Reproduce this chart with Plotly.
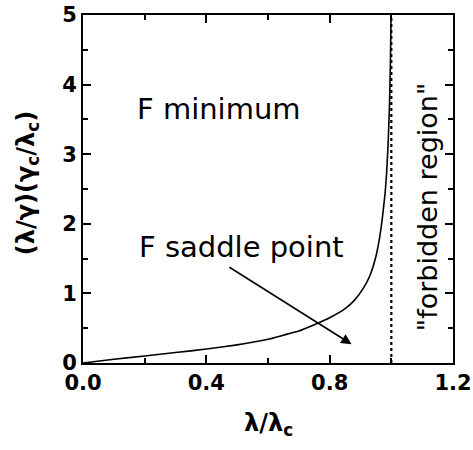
import plotly.graph_objects as go

# data
x_ratio = [0, 0.1, 0.2, 0.3, 0.4, 0.5, 0.6, 0.65, 0.7, 0.75, 0.8, 0.85, 0.88, 0.91, 0.93,
           0.95, 0.96, 0.97, 0.98, 0.985, 0.99, 0.994, 0.997, 0.999]
y_ratio = [0, 0.055, 0.10, 0.15, 0.20, 0.26, 0.34, 0.40, 0.46, 0.55, 0.65, 0.78, 0.90, 1.08, 1.25,
           1.53, 1.75, 2.05, 2.45, 2.75, 3.2, 3.7, 4.3, 5.0]
forbidden_x = [1.0, 1.0]
forbidden_y = [0, 5]
x_ticks = [0.0, 0.4, 0.8, 1.2]
x_ticklabels = ["0.0", "0.4", "0.8", "1.2"]
y_ticks = [0, 1, 2, 3, 4, 5]

FONT = "DejaVu Sans"

fig = go.Figure()
fig.add_trace(go.Scatter(x=x_ratio, y=y_ratio, mode="lines",
                         line=dict(color="black", width=1.6, shape="spline", smoothing=0.4),
                         showlegend=False, hoverinfo="skip"))
fig.add_trace(go.Scatter(x=forbidden_x, y=forbidden_y, mode="lines", line=dict(color="black", width=2.2, dash="dot"),
                         showlegend=False, hoverinfo="skip"))

axis_common = dict(showline=True, linecolor="black", linewidth=2, mirror="allticks",
                   ticks="inside", ticklen=8, tickwidth=2, tickcolor="black",
                   showgrid=False, zeroline=False, automargin=False,
                   tickfont=dict(family=FONT, size=21, color="black", weight="bold"))

fig.update_xaxes(range=[0, 1.2], tickvals=x_ticks, ticktext=x_ticklabels,
                 minor=dict(ticks="inside", ticklen=5, tickwidth=2, tickcolor="black", dtick=0.2, showgrid=False),
                 **axis_common)
fig.update_yaxes(range=[0, 5], tickvals=y_ticks,
                 minor=dict(ticks="inside", ticklen=5, tickwidth=2, tickcolor="black", dtick=0.5, showgrid=False),
                 **axis_common)

fig.add_annotation(x=0.44, y=3.65, xref="x", yref="y", text="F minimum", showarrow=False,
                   xanchor="center", yanchor="middle", font=dict(family=FONT, size=29, color="black"))
fig.add_annotation(x=0.514, y=1.67, xref="x", yref="y", text="F saddle point", showarrow=False,
                   xanchor="center", yanchor="middle", font=dict(family=FONT, size=29, color="black"))
fig.add_annotation(x=0.871, y=0.27, ax=0.47, ay=1.39, xref="x", yref="y", axref="x", ayref="y",
                   text="", showarrow=True, arrowhead=2, arrowsize=1.3, arrowwidth=1.6, arrowcolor="black")
fig.add_annotation(x=1.116, y=2.24, xref="x", yref="y", text="\"forbidden region\"", showarrow=False, textangle=-90,
                   xanchor="center", yanchor="middle", font=dict(family=FONT, size=27, color="black"))

fig.add_annotation(x=-0.151, y=0.517, xref="paper", yref="paper", text="(λ/γ)(γ<sub>c</sub>/λ<sub>c</sub>)",
                   showarrow=False, textangle=-90, xanchor="center", yanchor="middle",
                   font=dict(family=FONT, size=24, color="black", weight="bold"))
fig.add_annotation(x=0.5, y=-0.178, xref="paper", yref="paper", text="λ/λ<sub>c</sub>", showarrow=False,
                   xanchor="center", yanchor="middle",
                   font=dict(family=FONT, size=24, color="black", weight="bold"))

fig.update_layout(width=473, height=450, margin=dict(l=83, r=20, t=15, b=87),
                  plot_bgcolor="white", paper_bgcolor="white")

fig.write_html("out.html", config={"displayModeBar": False},
               post_script="document.body.style.margin='0';document.body.style.overflow='hidden';")
